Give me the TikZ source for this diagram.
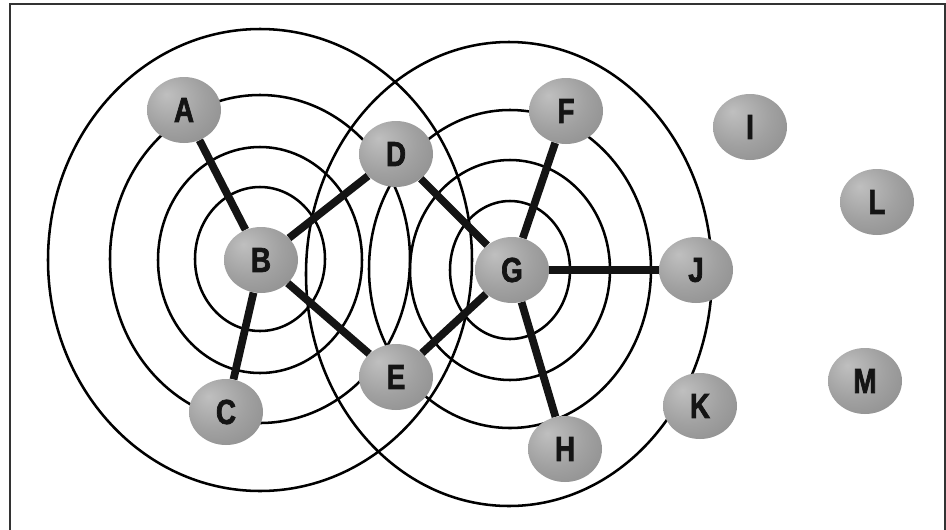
\documentclass[tikz,border=0pt]{standalone}
\usepackage{fontspec}
\newfontfamily\lblfont[FakeStretch=0.8,FakeBold=2]{Liberation Sans Bold}
\usetikzlibrary{shapes.geometric,backgrounds}
\pgfdeclareradialshading{nodeball}{\pgfpoint{-12bp}{12bp}}{color(0bp)=(black!25); color(22bp)=(black!37); color(48bp)=(black!48); color(70bp)=(black!60)}
\tikzset{
  ball/.style={ellipse, minimum width=55.5pt, minimum height=49.5pt, inner sep=0pt,
    shading=nodeball, text=black!92, font=\lblfont\fontsize{26}{26}\selectfont},
  ring/.style={line width=1.9pt, black},
  link/.style={line width=5.8pt, black!92},
  frame/.style={line width=1.8pt, black!80}
}
\begin{document}
\begin{tikzpicture}[x=0.75pt,y=-0.75pt]
\useasboundingbox (0,0) rectangle (946,529);
\draw[frame] (10,535) -- (10,4) -- (945,4) -- (945,535);
% nodes
\node[ball] (A) at (184,110) {A};
\node[ball] (B) at (261,260) {B};
\node[ball] (C) at (226,412) {C};
\node[ball] (D) at (396,154) {D};
\node[ball] (E) at (396,377) {E};
\node[ball] (F) at (566,111) {F};
\node[ball] (G) at (512,270) {G};
\node[ball] (H) at (565,449) {H};
\node[ball] (I) at (750,127) {I};
\node[ball] (J) at (696,270) {J};
\node[ball] (K) at (700,406) {K};
\node[ball] (L) at (877,202) {L};
\node[ball] (M) at (865,381) {M};
\begin{scope}[on background layer]
  % rings around B
  \draw[ring] (260,260) ellipse [x radius=212, y radius=231];
  \draw[ring] (260,259) ellipse [x radius=150, y radius=164];
  \draw[ring] (260,260) ellipse [x radius=102, y radius=113];
  \draw[ring] (260,259) ellipse [x radius=65, y radius=72];
  % rings around G
  \draw[ring] (509,274) ellipse [x radius=203, y radius=232];
  \draw[ring] (510,269) ellipse [x radius=141, y radius=159];
  \draw[ring] (510,270) ellipse [x radius=100, y radius=110];
  \draw[ring] (510,270) ellipse [x radius=60, y radius=69];
  % links
  \draw[link] (A) -- (B);
  \draw[link] (B) -- (C);
  \draw[link] (B) -- (D);
  \draw[link] (B) -- (E);
  \draw[link] (D) -- (G);
  \draw[link] (E) -- (G);
  \draw[link] (F) -- (G);
  \draw[link] (G) -- (J);
  \draw[link] (G) -- (H);
\end{scope}
\end{tikzpicture}
\end{document}
